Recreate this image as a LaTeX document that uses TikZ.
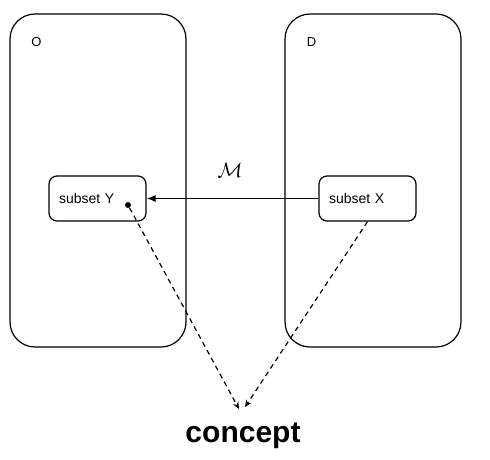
\documentclass[tikz,border=0pt]{standalone}
\usepackage{amsmath}
\usepackage{fontspec}
\setmainfont{Liberation Sans}
\usetikzlibrary{arrows.meta}

\begin{document}
    \begin{tikzpicture}[x=1pt,y=-1pt,
        setbox/.style={draw,line width=1.2pt,rounded corners=25pt,
            minimum width=176pt,minimum height=333pt},
        subset/.style={draw,line width=1.2pt,rounded corners=8pt,
            minimum width=97pt,minimum height=45pt,text width=77pt,
            inner xsep=10pt,align=left,font=\fontsize{14}{16}\selectfont},
        tag/.style={font=\fontsize{13}{15}\selectfont},
        link/.style={dashed,dash pattern=on 5pt off 4pt,line width=1.2pt,
            -{Stealth[length=7pt,width=6pt]}}]
        \useasboundingbox (0,0) rectangle (490,459);
        % the two sets
        \node[setbox] (O) at (98,180.5) {};
        \node[setbox] (D) at (373,180.5) {};
        \node[tag] (Olabel) at (36.5,42) {O};
        \node[tag] (Dlabel) at (311.5,42) {D};
        % the subsets
        \node[subset] (Y) at (97.5,198.5) {subset Y};
        \node[subset] (X) at (367.5,198.5) {subset X};
        \node[circle,fill,inner sep=0pt,minimum size=6pt] (dot) at (128,205) {};
        \draw[line width=1.2pt,-{Latex[length=9pt,width=7pt]}] (X.west) -- (Y.east);
        \node[font=\fontsize{22}{26}\selectfont] (map) at (230,170) {$\mathcal{M}$};
        % the concept
        \node[font=\fontsize{30}{34}\selectfont\bfseries] (concept) at (243,436) {concept};
        \coordinate (inY) at (239,409);
        \coordinate (inX) at (245,407);
        \draw[link] (dot) -- (inY);
        \draw[link] (X.south) -- (inX);
    \end{tikzpicture}
\end{document}
